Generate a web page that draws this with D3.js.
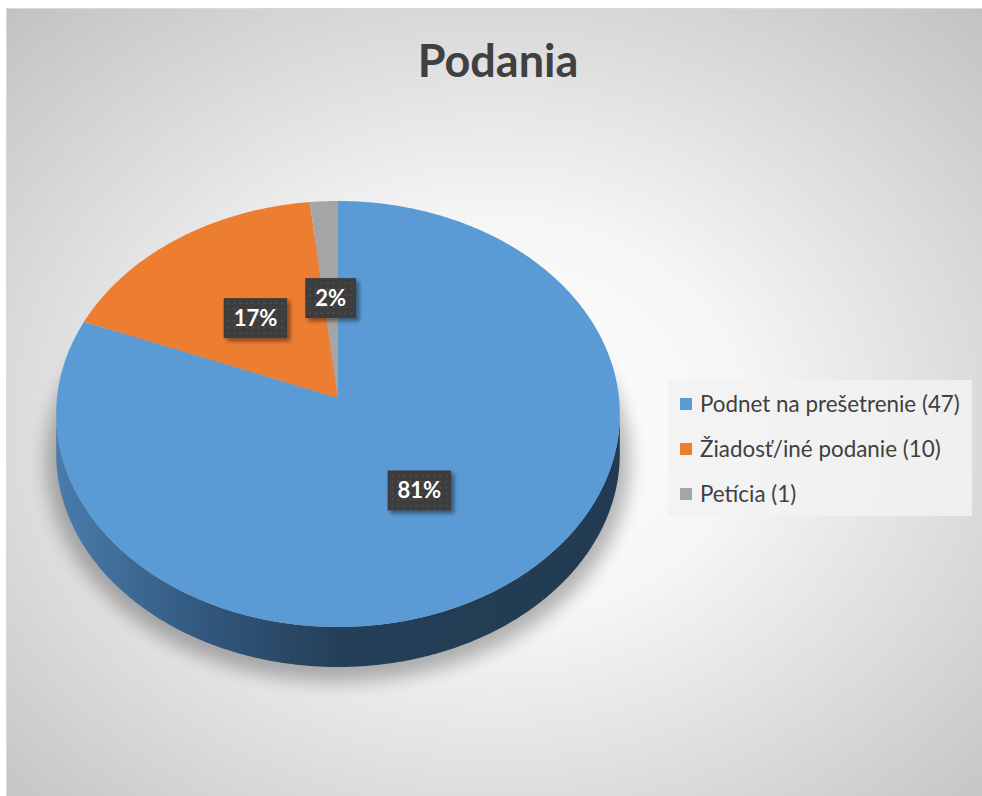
<!DOCTYPE html>
<html><head><meta charset="utf-8">
<script src="https://cdn.jsdelivr.net/npm/d3@7"></script>
<style>body{margin:0;background:#fff}svg{display:block}</style></head>
<body><svg id="c" width="982" height="796"></svg>
<script>
const title = "Podania";
const categories = ["Podnet na prešetrenie", "Žiadosť/iné podanie", "Petícia"];
const values = [47, 10, 1];
const colors = ["#5b9bd5", "#ed7d31", "#a5a5a5"];

const svg = d3.select("#c");
const defs = svg.append("defs");

// background gradient
const bg = defs.append("radialGradient").attr("id","bg").attr("cx","0.5").attr("cy","0.52").attr("r","0.72");
bg.append("stop").attr("offset","0").attr("stop-color","#ffffff");
bg.append("stop").attr("offset","0.35").attr("stop-color","#f6f6f6");
bg.append("stop").attr("offset","1").attr("stop-color","#c2c2c2");
svg.append("rect").attr("x",6.5).attr("y",8.5).attr("width",980).attr("height",792)
  .attr("fill","url(#bg)").attr("stroke","#d9d9d9");

// side gradient
const sg = defs.append("linearGradient").attr("id","side").attr("gradientUnits","userSpaceOnUse")
  .attr("x1",56).attr("x2",620).attr("y1",0).attr("y2",0);
sg.append("stop").attr("offset","0").attr("stop-color","#4a7cad");
sg.append("stop").attr("offset","0.25").attr("stop-color","#33597f");
sg.append("stop").attr("offset","0.5").attr("stop-color","#243f58");
sg.append("stop").attr("offset","1").attr("stop-color","#223b52");

// label pattern
const pat = defs.append("pattern").attr("id","dots").attr("patternUnits","userSpaceOnUse").attr("width",6).attr("height",6);
pat.append("rect").attr("width",6).attr("height",6).attr("fill","#3d3d3d");
pat.append("circle").attr("cx",3).attr("cy",3).attr("r",0.9).attr("fill","#555555");

const lblShadow = defs.append("filter").attr("id","lsh").attr("x","-30%").attr("y","-30%").attr("width","170%").attr("height","170%");
lblShadow.append("feDropShadow").attr("dx",3).attr("dy",3).attr("stdDeviation",2).attr("flood-color","#000").attr("flood-opacity",0.45);

const pieShadow = defs.append("filter").attr("id","psh").attr("x","-20%").attr("y","-20%").attr("width","140%").attr("height","140%");
pieShadow.append("feGaussianBlur").attr("stdDeviation",9);

// perspective ellipse projection
const cx = 338, cy = 398, B = 281, A = 211.8, k = 0.0751, depth = 40;
function proj(theta, f, dz){
  const u = f*Math.sin(theta), v = f*Math.cos(theta);
  const den = 1 + k*v;
  return [cx + B*u/den, cy - A*v/den + (dz||0)];
}
function arcPts(a0, a1, f, dz){
  const n = Math.max(2, Math.ceil(Math.abs(a1-a0)/(Math.PI/360)));
  const pts = [];
  for (let i=0;i<=n;i++){ pts.push(proj(a0+(a1-a0)*i/n, f, dz)); }
  return pts;
}
const line = d3.line();

const arcs = d3.pie().sort(null).value(d=>d)(values);

// shadow
const thR = Math.acos(-k), thL = 2*Math.PI - thR;
const sidePts = arcPts(thR, thL, 1, 0).concat(arcPts(thL, thR, 1, depth));
svg.append("path").attr("d", line(arcPts(0,2*Math.PI,1.035,depth+6))+"Z")
  .attr("fill","#000").attr("opacity",0.28).attr("filter","url(#psh)");

// side (front wall) - entirely within the first slice
svg.append("path").attr("d", line(sidePts)+"Z").attr("fill","url(#side)");

// top slices
svg.selectAll("path.slice").data(arcs).join("path").attr("class","slice")
  .attr("d", d => line([[cx,cy]].concat(arcPts(d.startAngle, d.endAngle, 1, 0)))+"Z")
  .attr("fill", (d,i)=>colors[i]);

// labels
const total = d3.sum(values);
const lg = svg.selectAll("g.lbl").data(arcs).join("g").attr("class","lbl")
  .attr("transform", d => { const p = proj((d.startAngle+d.endAngle)/2, 0.5, 0); return `translate(${p[0]},${p[1]+2})`; });
lg.each(function(d){
  const g = d3.select(this);
  const t = g.append("text").text(Math.round(d.value/total*100)+"%")
    .attr("text-anchor","middle").attr("dy","0.36em")
    .attr("font-family","Lato, 'Open Sans', sans-serif").attr("font-weight","bold")
    .attr("font-size",22).attr("fill","#fff");
  const w = t.node().getComputedTextLength() + 20, h = 40;
  g.insert("rect","text").attr("x",-w/2).attr("y",-h/2).attr("width",w).attr("height",h)
    .attr("fill","url(#dots)").attr("filter","url(#lsh)");
});

// legend
const leg = svg.append("g");
leg.append("rect").attr("x",668).attr("y",380).attr("width",304).attr("height",136)
  .attr("fill","#f2f2f2").attr("opacity",0.85);
const ly = d3.scalePoint().domain(categories).range([404, 494]);
categories.forEach((c,i)=>{
  leg.append("rect").attr("x",680).attr("y",ly(c)-6).attr("width",12).attr("height",12).attr("fill",colors[i]);
  leg.append("text").attr("x",700).attr("y",ly(c)).attr("dy","0.35em")
    .attr("font-family","Lato, 'Open Sans', sans-serif").attr("font-size",22.4).attr("fill","#404040")
    .text(`${c} (${values[i]})`);
});

// title
svg.append("text").attr("x",498).attr("y",77).attr("text-anchor","middle")
  .attr("font-family","Lato, 'Open Sans', sans-serif").attr("font-weight","bold")
  .attr("font-size",45).attr("fill","#404040").text(title);
</script>
</body></html>
